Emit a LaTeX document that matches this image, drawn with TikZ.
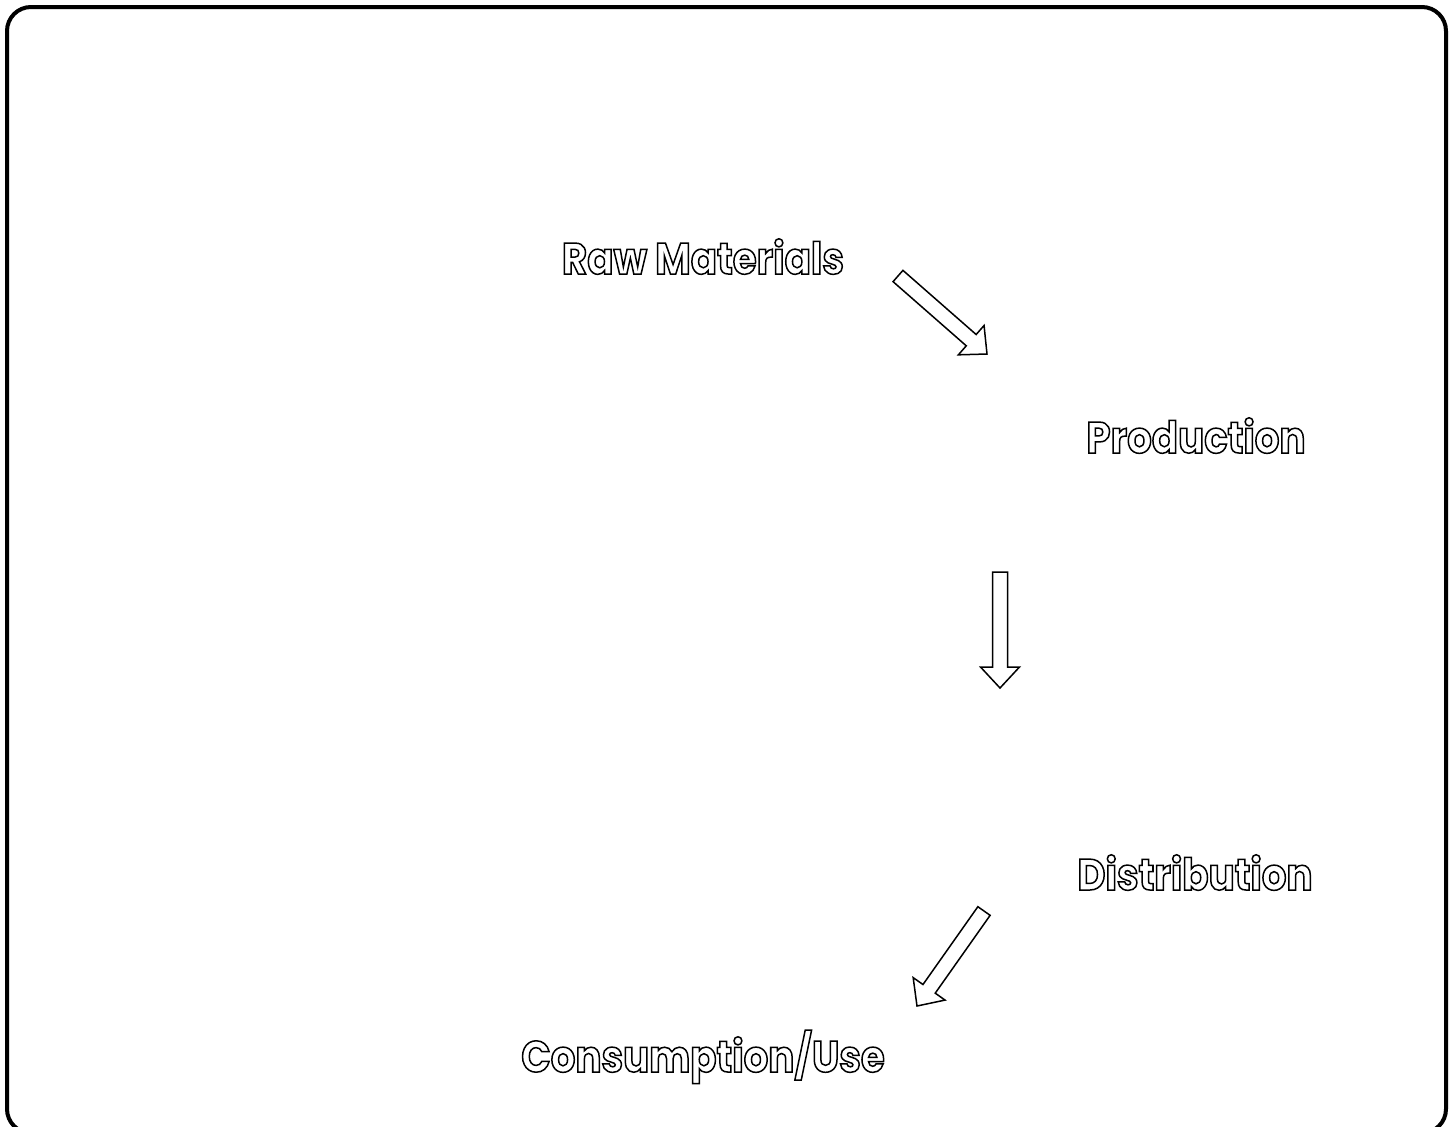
\documentclass[tikz,border=0pt]{standalone}
\usepackage{fontspec}
\usetikzlibrary{calc}
\newfontfamily\stagefont{Poppins}[FakeStretch=0.88]
% hollow letters: stroke only, no fill
\newcommand{\hollow}[1]{\special{pdf:code 1 Tr 0.75 w}#1\special{pdf:code 0 Tr}}
\tikzset{
  stage/.style={font=\stagefont\bfseries\fontsize{22}{26}\selectfont, anchor=base, inner sep=0pt},
  blockarrow/.style={draw=black, fill=white, line width=0.75pt, line join=miter, to path={
    ($(\tikztostart)!3.75pt!90:(\tikztotarget)$) --
    ($($(\tikztotarget)!10.5pt!(\tikztostart)$)!3.75pt!90:(\tikztotarget)$) --
    ($($(\tikztotarget)!10.5pt!(\tikztostart)$)!9.75pt!90:(\tikztotarget)$) --
    (\tikztotarget) --
    ($($(\tikztotarget)!10.5pt!(\tikztostart)$)!9.75pt!-90:(\tikztotarget)$) --
    ($($(\tikztotarget)!10.5pt!(\tikztostart)$)!3.75pt!-90:(\tikztotarget)$) --
    ($(\tikztostart)!3.75pt!-90:(\tikztotarget)$) -- cycle}}
}
\begin{document}
\begin{tikzpicture}[x=0.5pt, y=-0.5pt]
\useasboundingbox (0,0) rectangle (1453,1126);
\draw [line width=2pt, rounded corners=12pt] (7,7) rectangle (1446,1133);
% stages
\node [stage] (raw) at (703,274) {\hollow{Raw Materials}};
\node [stage] (prod) at (1196,453) {\hollow{Production}};
\node [stage] (dist) at (1195,890) {\hollow{Distribution}};
\node [stage] (use) at (703,1072) {\hollow{Consumption/Use}};
% arrow ends
\coordinate (a1s) at (898,276);
\coordinate (a1t) at (987,354);
\coordinate (a2s) at (1000,572);
\coordinate (a2t) at (1000,688);
\coordinate (a3s) at (984,911);
\coordinate (a3t) at (917,1006);
\draw [blockarrow] (a1s) to (a1t);
\draw [blockarrow] (a2s) to (a2t);
\draw [blockarrow] (a3s) to (a3t);
\end{tikzpicture}
\end{document}
